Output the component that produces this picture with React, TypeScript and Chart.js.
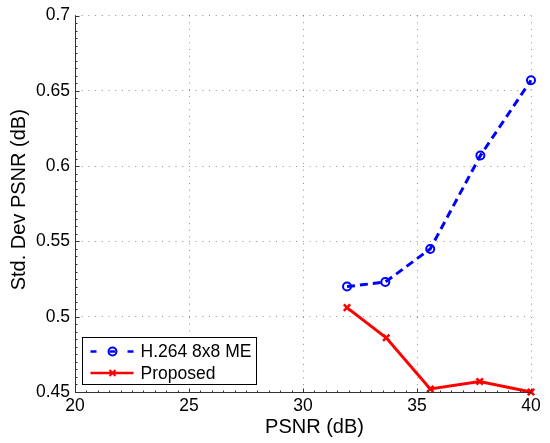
import React, { useEffect, useRef } from "react";
import { Chart, registerables } from "chart.js";

Chart.register(...registerables);

const psnrH264 = [31.93, 33.61, 35.58, 37.78, 40.0];
const stdH264 = [0.52, 0.523, 0.545, 0.607, 0.657];
const psnrProposed = [31.93, 33.65, 35.58, 37.75, 40.0];
const stdProposed = [0.506, 0.486, 0.452, 0.457, 0.45];
const seriesNames = ["H.264 8x8 ME", "Proposed"];
const xTitle = "PSNR (dB)";
const yTitle = "Std. Dev PSNR (dB)";

const FONT = "'Liberation Sans', Arial, Helvetica, sans-serif";
const BLUE = "#0000ff";
const RED = "#ff0000";

const decorPlugin = {
  id: "decor",
  afterDatasetsDraw(chart: any) {
    const ctx = chart.ctx;
    const { left, right, top, bottom } = chart.chartArea;
    const xs = chart.scales.x;
    const ys = chart.scales.y;
    ctx.save();
    ctx.setLineDash([]);
    ctx.strokeStyle = "#333";
    ctx.lineWidth = 1;
    // axis lines
    const ax = Math.round(left) + 0.5;
    const ay = Math.round(bottom) + 0.5;
    ctx.beginPath();
    ctx.moveTo(ax, top);
    ctx.lineTo(ax, ay);
    ctx.lineTo(right, ay);
    ctx.stroke();
    // y ticks (inward, major + minor)
    for (let i = 0; i <= 50; i++) {
      const v = 0.45 + i * 0.005;
      const py = Math.round(ys.getPixelForValue(v)) + 0.5;
      const len = i % 10 === 0 ? 4 : 2;
      ctx.beginPath();
      ctx.moveTo(ax, py);
      ctx.lineTo(ax + len, py);
      ctx.stroke();
    }
    // x ticks
    for (let i = 0; i <= 40; i++) {
      const v = 20 + i * 0.5;
      const px = Math.round(xs.getPixelForValue(v)) + 0.5;
      const len = i % 10 === 0 ? 4 : 2;
      ctx.beginPath();
      ctx.moveTo(px, ay);
      ctx.lineTo(px, ay - len);
      ctx.stroke();
    }
    ctx.restore();
  },
  afterDraw(chart: any) {
    const ctx = chart.ctx;
    const { left, right, top, bottom } = chart.chartArea;
    ctx.save();
    ctx.setLineDash([]);
    // axis titles
    ctx.fillStyle = "#000";
    ctx.font = `20px ${FONT}`;
    ctx.textAlign = "center";
    ctx.textBaseline = "middle";
    ctx.fillText(xTitle, (left + right) / 2 + 11.5, bottom + 35);
    ctx.save();
    ctx.translate(19, (top + bottom) / 2 - 4);
    ctx.rotate(-Math.PI / 2);
    ctx.fillText(yTitle, 0, 0);
    ctx.restore();
    // legend
    const lx = left + 7.5;
    const lw = 174;
    const lh = 47;
    const ly = bottom - 8 - lh + 0.5;
    ctx.fillStyle = "#fff";
    ctx.fillRect(lx, ly, lw, lh);
    ctx.strokeStyle = "#000";
    ctx.lineWidth = 1;
    ctx.strokeRect(lx, ly, lw, lh);
    const sx0 = lx + 8;
    const sx1 = lx + 51;
    const mx = lx + 30;
    const r1 = ly + 14;
    const r2 = ly + 35.5;
    // blue sample
    ctx.strokeStyle = BLUE;
    ctx.lineWidth = 2.5;
    ctx.beginPath();
    ctx.moveTo(sx0, r1);
    ctx.lineTo(sx0 + 6, r1);
    ctx.moveTo(sx1 - 6, r1);
    ctx.lineTo(sx1, r1);
    ctx.moveTo(mx - 3, r1);
    ctx.lineTo(mx + 3, r1);
    ctx.stroke();
    ctx.lineWidth = 2;
    ctx.beginPath();
    ctx.arc(mx, r1, 4, 0, Math.PI * 2);
    ctx.stroke();
    // red sample
    ctx.strokeStyle = RED;
    ctx.lineWidth = 2.5;
    ctx.beginPath();
    ctx.moveTo(sx0, r2);
    ctx.lineTo(sx1, r2);
    ctx.stroke();
    ctx.lineWidth = 2;
    ctx.beginPath();
    ctx.moveTo(mx - 3, r2 - 3);
    ctx.lineTo(mx + 3, r2 + 3);
    ctx.moveTo(mx - 3, r2 + 3);
    ctx.lineTo(mx + 3, r2 - 3);
    ctx.stroke();
    ctx.fillStyle = "#000";
    ctx.font = `17.5px ${FONT}`;
    ctx.textAlign = "left";
    ctx.textBaseline = "middle";
    ctx.fillText(seriesNames[0], lx + 58, r1 + 1);
    ctx.fillText(seriesNames[1], lx + 58, r2 + 1);
    ctx.restore();
  },
};

export default function App() {
  const ref = useRef<HTMLCanvasElement | null>(null);
  useEffect(() => {
    if (!ref.current) return;
    const gridCommon = {
      display: true,
      color: "rgba(0,0,0,0.45)",
      lineWidth: 1,
      drawTicks: false,
    };
    const borderCommon = { display: false, dash: [1, 5.7], color: "#333", width: 1 };
    const chart = new Chart(ref.current, {
      type: "line",
      data: {
        datasets: [
          {
            label: seriesNames[0],
            data: psnrH264.map((x, i) => ({ x, y: stdH264[i] })),
            borderColor: BLUE,
            backgroundColor: BLUE,
            borderWidth: 3,
            borderDash: [8, 5],
            pointStyle: "circle",
            pointRadius: 4,
            pointBorderWidth: 2,
            pointBorderColor: BLUE,
            pointBackgroundColor: "rgba(0,0,0,0)",
            tension: 0,
            clip: false as any,
          },
          {
            label: seriesNames[1],
            data: psnrProposed.map((x, i) => ({ x, y: stdProposed[i] })),
            borderColor: RED,
            backgroundColor: RED,
            borderWidth: 3,
            pointStyle: "crossRot",
            pointRadius: 4.5,
            pointBorderWidth: 2.5,
            pointBorderColor: RED,
            tension: 0,
            clip: false as any,
          },
        ],
      },
      options: {
        animation: false,
        responsive: false,
        devicePixelRatio: 1,
        layout: { padding: { left: 0, top: 15, right: 19, bottom: 0 } },
        plugins: {
          legend: { display: false },
          tooltip: { enabled: false },
        },
        scales: {
          x: {
            type: "linear",
            min: 20,
            max: 40,
            afterFit: (s: any) => {
              s.height = 51;
            },
            ticks: {
              stepSize: 5,
              padding: 4,
              color: "#000",
              font: { family: FONT, size: 17.5 },
              maxRotation: 0,
            },
            grid: gridCommon as any,
            border: borderCommon as any,
            title: { display: false },
          },
          y: {
            type: "linear",
            min: 0.45,
            max: 0.7,
            afterFit: (s: any) => {
              s.width = 75;
            },
            ticks: {
              stepSize: 0.05,
              padding: 5,
              color: "#000",
              font: { family: FONT, size: 17.5 },
              callback: (v: any) => Number(Number(v).toFixed(2)).toString(),
            },
            grid: gridCommon as any,
            border: borderCommon as any,
            title: { display: false },
          },
        },
      },
      plugins: [decorPlugin],
    } as any);
    return () => chart.destroy();
  }, []);
  return (
    <div style={{ position: "fixed", left: 0, top: 0, width: 550, height: 443, background: "#fff" }}>
      <canvas ref={ref} width={550} height={443} />
    </div>
  );
}
